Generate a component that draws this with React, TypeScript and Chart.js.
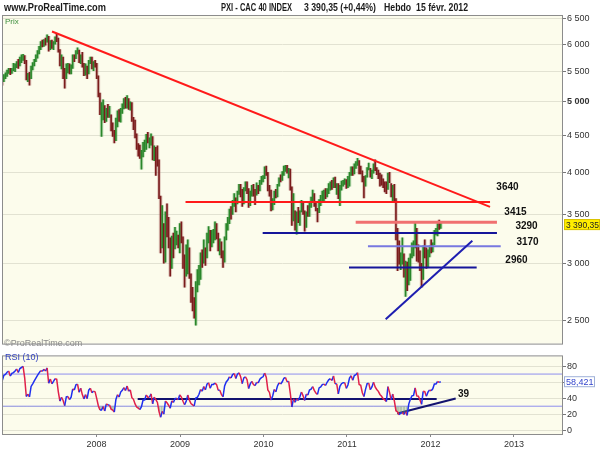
import React, { useEffect, useRef } from "react";
import { Chart, registerables } from "chart.js";
Chart.register(...registerables);

// ---------- DATA (weekly bars, CAC 40, Friday of first bar = 2006-11-10) ----------
const warmupCloses = [4960, 5010, 5120, 5110, 5170, 5080, 5180, 5100, 5250, 5330, 5390, 5400, 5400, 5440];

const lows2006 = [5390, 5270, 5330, 5380, 5420, 5470, 5450, 5470];
const highs2006 = [5470, 5410, 5450, 5480, 5530, 5560, 5560, 5560];
const closes2006 = [5420, 5300, 5420, 5440, 5500, 5530, 5480, 5540];

const lows2007 = [5520, 5500, 5570, 5560, 5600, 5660, 5700, 5640, 5360, 5330, 5270, 5380, 5530, 5600, 5680, 5740, 5820, 5900, 5950, 5960, 5980, 6040, 5870, 5900, 5920, 5900, 6000, 6050, 5850, 5600, 5550, 5380, 5220, 5380, 5480, 5460, 5460, 5560, 5680, 5730, 5820, 5660, 5640, 5580, 5430, 5440, 5380, 5460, 5640, 5550, 5520, 5580];
const highs2007 = [5650, 5640, 5680, 5720, 5760, 5800, 5810, 5790, 5700, 5470, 5490, 5600, 5660, 5720, 5800, 5880, 5960, 6050, 6080, 6090, 6120, 6180, 6150, 6070, 6080, 6050, 6140, 6190, 6120, 5900, 5800, 5760, 5560, 5640, 5650, 5640, 5620, 5800, 5800, 5880, 5930, 5890, 5800, 5850, 5650, 5640, 5600, 5700, 5760, 5760, 5680, 5700];
const closes2007 = [5560, 5600, 5650, 5620, 5720, 5750, 5780, 5680, 5400, 5440, 5380, 5570, 5630, 5700, 5770, 5850, 5930, 6010, 6000, 6070, 6050, 6160, 5950, 6060, 5980, 6040, 6110, 6100, 5880, 5620, 5700, 5600, 5400, 5590, 5600, 5500, 5550, 5750, 5720, 5860, 5880, 5690, 5790, 5620, 5480, 5580, 5450, 5670, 5730, 5600, 5640, 5620];

const lows2008 = [5380, 5080, 4800, 4480, 4720, 4680, 4700, 4760, 4760, 4560, 4480, 4390, 4420, 4620, 4700, 4690, 4820, 4890, 4900, 4900, 4880, 4870, 4700, 4580, 4460, 4300, 4210, 4180, 4040, 4200, 4270, 4300, 4390, 4320, 4360, 4160, 4150, 3960, 4080, 3680, 3100, 3150, 3000, 3010, 3260, 3150, 2880, 2950, 3050, 3140, 3180, 3150];
const highs2008 = [5650, 5430, 5140, 4990, 5030, 4940, 4900, 4960, 4930, 4800, 4680, 4570, 4750, 4860, 4880, 4900, 4970, 5050, 5070, 5100, 5050, 5000, 4990, 4760, 4720, 4520, 4380, 4360, 4290, 4400, 4430, 4510, 4540, 4460, 4520, 4480, 4350, 4330, 4350, 4160, 3710, 3600, 3400, 3530, 3620, 3470, 3250, 3270, 3300, 3360, 3320, 3280];
const closes2008 = [5420, 5130, 4880, 4880, 4950, 4700, 4860, 4800, 4800, 4600, 4550, 4430, 4700, 4830, 4740, 4880, 4930, 5010, 4930, 5060, 4920, 4960, 4720, 4660, 4480, 4330, 4270, 4200, 4250, 4380, 4380, 4480, 4420, 4420, 4480, 4200, 4330, 4250, 4160, 3710, 3180, 3330, 3070, 3490, 3370, 3200, 2960, 3220, 3110, 3250, 3260, 3190];

const lows2009 = [3100, 3200, 2950, 2780, 2880, 2900, 2860, 2650, 2580, 2520, 2465, 2740, 2800, 2850, 2960, 3000, 2980, 3050, 3200, 3120, 3160, 3200, 3230, 3240, 3120, 3080, 3050, 2960, 3010, 3230, 3330, 3400, 3450, 3500, 3590, 3530, 3620, 3730, 3700, 3590, 3620, 3770, 3740, 3580, 3600, 3710, 3710, 3610, 3720, 3740, 3770, 3850];
const highs2009 = [3400, 3420, 3260, 3080, 3180, 3230, 3150, 2900, 2780, 2690, 2830, 2940, 2980, 3100, 3130, 3230, 3150, 3300, 3370, 3330, 3330, 3340, 3420, 3400, 3300, 3240, 3210, 3120, 3260, 3400, 3470, 3560, 3590, 3660, 3740, 3690, 3770, 3850, 3850, 3790, 3810, 3880, 3880, 3800, 3770, 3840, 3850, 3790, 3870, 3840, 3900, 3950];
const closes2009 = [3350, 3250, 3050, 2850, 2950, 3150, 2900, 2700, 2620, 2560, 2790, 2810, 2900, 3050, 3000, 3150, 3050, 3250, 3300, 3150, 3280, 3280, 3320, 3290, 3160, 3160, 3060, 3000, 3250, 3370, 3430, 3540, 3520, 3640, 3680, 3600, 3750, 3800, 3740, 3620, 3790, 3830, 3780, 3610, 3730, 3800, 3740, 3720, 3800, 3790, 3880, 3920];

const lows2010 = [3880, 3920, 3960, 3770, 3710, 3540, 3550, 3610, 3690, 3700, 3830, 3880, 3900, 3960, 4010, 3990, 3930, 3780, 3380, 3430, 3330, 3290, 3410, 3380, 3530, 3500, 3320, 3360, 3480, 3480, 3580, 3640, 3590, 3540, 3420, 3520, 3600, 3650, 3650, 3680, 3700, 3740, 3780, 3790, 3810, 3810, 3730, 3680, 3600, 3780, 3830, 3850, 3800];
const highs2010 = [3960, 4070, 4080, 4000, 3840, 3780, 3680, 3770, 3790, 3850, 3930, 3970, 4010, 4080, 4090, 4090, 4050, 4040, 3820, 3740, 3540, 3530, 3580, 3540, 3660, 3650, 3540, 3530, 3600, 3640, 3700, 3780, 3740, 3650, 3570, 3670, 3720, 3770, 3780, 3800, 3800, 3860, 3880, 3900, 3930, 3940, 3860, 3860, 3840, 3890, 3900, 3920, 3910];
const closes2010 = [3940, 4040, 3990, 3790, 3740, 3560, 3630, 3760, 3710, 3840, 3920, 3900, 3950, 4040, 4060, 4000, 4010, 3820, 3390, 3560, 3430, 3510, 3450, 3530, 3640, 3530, 3380, 3520, 3500, 3620, 3640, 3700, 3620, 3560, 3530, 3660, 3680, 3730, 3740, 3720, 3780, 3830, 3850, 3830, 3920, 3830, 3830, 3690, 3810, 3860, 3880, 3880, 3810];

const lows2011 = [3810, 3830, 3960, 3960, 3980, 4050, 4090, 3980, 3980, 3880, 3690, 3830, 3940, 4030, 3940, 3920, 3990, 4020, 3970, 3920, 3830, 3840, 3810, 3760, 3740, 3790, 3870, 3700, 3650, 3650, 3230, 2930, 2990, 2940, 2990, 2870, 2700, 2750, 2800, 2840, 3050, 3070, 3150, 3020, 3010, 2930, 2780, 2850, 3050, 2950, 2960, 3060];
const highs2011 = [3950, 4000, 4070, 4070, 4110, 4140, 4180, 4150, 4080, 4020, 3950, 3960, 4060, 4120, 4050, 4030, 4110, 4160, 4060, 4030, 3990, 3970, 3920, 3880, 3880, 3990, 4000, 3860, 3840, 3850, 3680, 3350, 3220, 3100, 3250, 3090, 3020, 3010, 3050, 3090, 3200, 3220, 3420, 3350, 3180, 3120, 3000, 3170, 3230, 3150, 3130, 3170];
const closes2011 = [3860, 3990, 4040, 3990, 4090, 4110, 4160, 4020, 4010, 3900, 3830, 3940, 4050, 4060, 3960, 4010, 4100, 4030, 3990, 3960, 3910, 3880, 3840, 3820, 3790, 3980, 3890, 3740, 3830, 3670, 3280, 3210, 3020, 3050, 3060, 2950, 2990, 2780, 2980, 3080, 3160, 3170, 3350, 3120, 3110, 2990, 2820, 3150, 3140, 2990, 3100, 3160];

const lows2012 = [3100, 3110, 3180, 3280, 3270, 3340, 3350];
const highs2012 = [3230, 3200, 3330, 3350, 3400, 3440, 3420];
const closes2012 = [3140, 3190, 3320, 3320, 3390, 3375, 3390.35];

const priceTicks = [2500, 3000, 3500, 4000, 4500, 5000, 5500, 6000, 6500];
const rsiTicks = [0, 20, 40, 60, 80];
const yearTicks = [2008, 2009, 2010, 2011, 2012, 2013];

// trend lines in (decimal year, price)
const resistanceTrend = [[2007.467, 6247], [2012.713, 3586]];
const supportTrend = [[2011.463, 2513], [2012.501, 3220]];
const levelValues = [3640, 3415, 3300, 3165, 2960];
const levelStarts = [2009.066, 2011.104, 2009.99, 2011.251, 2011.024];
const levelEnds = [2012.713, 2012.796, 2012.796, 2012.841, 2012.553];
const levelTexts = ["3640", "3415", "3290", "3170", "2960"];
const levelTextAt = [[2012.922, 3811], [2013.018, 3525], [2013.15, 3374], [2013.162, 3210], [2013.03, 3025]];

// RSI annotations (decimal year, RSI)
const rsiFlatLine = [[2008.493, 39], [2012.074, 39]];
const rsiTrend = [[2011.602, 20.9], [2012.302, 39.6]];
const rsiTextAt = [2012.395, 45.1];
const rsiLevels = [70, 30];

const lastPriceText = "3 390,35";
const lastRsiText = "58,421";

// ---------- derived ----------
const lows = [...lows2006, ...lows2007, ...lows2008, ...lows2009, ...lows2010, ...lows2011, ...lows2012];
const highs = [...highs2006, ...highs2007, ...highs2008, ...highs2009, ...highs2010, ...highs2011, ...highs2012];
const closes = [...closes2006, ...closes2007, ...closes2008, ...closes2009, ...closes2010, ...closes2011, ...closes2012];

const X_MIN = 2006.88;
const X_MAX = 2013.575;
const DAY = 86400000;
const FIRST_FRIDAY = Date.UTC(2006, 10, 10);

function decimalYear(ms: number) {
  const y = new Date(ms).getUTCFullYear();
  const s = Date.UTC(y, 0, 1);
  const e = Date.UTC(y + 1, 0, 1);
  return y + (ms - s) / (e - s);
}
const weekX = closes.map((_, i) => decimalYear(FIRST_FRIDAY + i * 7 * DAY - 2 * DAY));

function wilderRsi(series: number[], n: number) {
  const out: number[] = series.map(() => NaN);
  let g = 0, l = 0;
  for (let i = 1; i < series.length; i++) {
    const d = series[i] - series[i - 1];
    const up = d > 0 ? d : 0;
    const dn = d < 0 ? -d : 0;
    if (i <= n) {
      g += up; l += dn;
      if (i === n) { g /= n; l /= n; out[i] = l === 0 ? 100 : 100 - 100 / (1 + g / l); }
    } else {
      g = (g * (n - 1) + up) / n;
      l = (l * (n - 1) + dn) / n;
      out[i] = l === 0 ? 100 : 100 - 100 / (1 + g / l);
    }
  }
  return out;
}
const rsiAll = wilderRsi([...warmupCloses, ...closes], 10);
const rsiValues = rsiAll.slice(warmupCloses.length);

const FONT = '"Liberation Sans", Arial, sans-serif';
const CREAM = "#FCFCEC";
const GRID = "#E2E2D2";
const FRAME = "#8C8C8C";

function fmtThousands(v: number) {
  return String(v).replace(/\B(?=(\d{3})+(?!\d))/g, " ");
}

const pricePlugin = {
  id: "pricePanel",
  beforeDraw(chart: any) {
    const { ctx, chartArea: a } = chart;
    ctx.save();
    ctx.fillStyle = "#ffffff";
    ctx.fillRect(0, 0, chart.width, chart.height);
    ctx.fillStyle = CREAM;
    ctx.fillRect(a.left, a.top, a.right - a.left, a.bottom - a.top);
    ctx.restore();
  },
  afterDraw(chart: any) {
    const { ctx, chartArea: a, scales } = chart;
    ctx.save();
    ctx.strokeStyle = FRAME;
    ctx.lineWidth = 1;
    ctx.strokeRect(a.left - 0.5, a.top - 0.5, a.right - a.left + 1, a.bottom - a.top + 1);

    // header
    ctx.fillStyle = "#1a1a1a";
    ctx.textBaseline = "alphabetic";
    ctx.textAlign = "left";
    ctx.font = `bold 10px ${FONT}`;
    ctx.fillText("www.ProRealTime.com", 4, 11, 102);
    ctx.fillText("PXI - CAC 40 INDEX", 221, 11, 71);
    ctx.fillText("3 390,35 (+0,44%)", 304, 11, 72);
    ctx.fillText("Hebdo  15 févr. 2012", 384, 11, 84);

    ctx.font = `8px ${FONT}`;
    ctx.fillStyle = "#3d8f3d";
    ctx.fillText("Prix", 5, 24);
    ctx.font = `9px ${FONT}`;
    ctx.fillStyle = "#8a8a8a";
    ctx.fillText("©ProRealTime.com", 4, 346);

    // level labels
    ctx.font = `bold 10px ${FONT}`;
    ctx.fillStyle = "#111";
    ctx.textAlign = "center";
    ctx.textBaseline = "middle";
    levelTexts.forEach((t, i) => {
      ctx.fillText(t, scales.x.getPixelForValue(levelTextAt[i][0]), scales.y.getPixelForValue(levelTextAt[i][1]));
    });

    // last price box
    const py = scales.y.getPixelForValue(closes[closes.length - 1]);
    ctx.fillStyle = "#FFEE00";
    ctx.fillRect(564, py - 5.5, 36, 11);
    ctx.strokeStyle = "#D8C000";
    ctx.strokeRect(564.5, py - 5, 35, 10);
    ctx.fillStyle = "#222";
    ctx.font = `9px ${FONT}`;
    ctx.textAlign = "left";
    ctx.fillText(lastPriceText, 566, py + 0.5, 33);
    ctx.restore();
  },
};

const rsiPlugin = {
  id: "rsiPanel",
  beforeDraw(chart: any) {
    const { ctx, chartArea: a } = chart;
    ctx.save();
    ctx.fillStyle = "#ffffff";
    ctx.fillRect(0, 0, chart.width, chart.height);
    ctx.fillStyle = CREAM;
    ctx.fillRect(a.left, a.top, a.right - a.left, a.bottom - a.top);
    ctx.restore();
  },
  afterDraw(chart: any) {
    const { ctx, chartArea: a, scales } = chart;
    ctx.save();
    ctx.strokeStyle = FRAME;
    ctx.lineWidth = 1;
    ctx.strokeRect(a.left - 0.5, a.top - 0.5, a.right - a.left + 1, a.bottom - a.top + 1);
    ctx.font = `9px ${FONT}`;
    ctx.fillStyle = "#2F3FBF";
    ctx.textBaseline = "top";
    ctx.textAlign = "left";
    ctx.fillText("RSI (10)", 5, 3);

    ctx.font = `bold 10px ${FONT}`;
    ctx.fillStyle = "#111";
    ctx.textAlign = "center";
    ctx.textBaseline = "middle";
    ctx.fillText("39", scales.x.getPixelForValue(rsiTextAt[0]), scales.y.getPixelForValue(rsiTextAt[1]));

    const ry = scales.y.getPixelForValue(rsiValues[rsiValues.length - 1]);
    ctx.fillStyle = "#ffffff";
    ctx.fillRect(564.5, ry - 5, 30, 10);
    ctx.strokeStyle = "#9FB0D8";
    ctx.strokeRect(564.5, ry - 5, 30, 10);
    ctx.fillStyle = "#3344CC";
    ctx.font = `9px ${FONT}`;
    ctx.textAlign = "left";
    ctx.fillText(lastRsiText, 566, ry + 0.5, 28);
    ctx.restore();
  },
};

function seg(points: number[][]) {
  return points.map((p) => ({ x: p[0], y: p[1] }));
}

export default function App() {
  const priceRef = useRef<HTMLCanvasElement>(null);
  const rsiRef = useRef<HTMLCanvasElement>(null);

  useEffect(() => {
    const up = closes.map((c, i) => c >= (i === 0 ? warmupCloses[warmupCloses.length - 1] : closes[i - 1]));
    const barData = weekX.map((x, i) => ({ x, y: [lows[i], highs[i]] }));

    const lineDs = (data: any[], color: string, width: number) => ({
      type: "line" as const,
      data,
      borderColor: color,
      borderWidth: width,
      pointRadius: 0,
      fill: false,
      order: 0,
    });

    const priceDatasets: any[] = [
      lineDs(seg(resistanceTrend), "#FF1A1A", 2),
      lineDs(seg(supportTrend), "#1E1EB0", 2),
      ...levelValues.map((v, i) =>
        lineDs(
          [{ x: levelStarts[i], y: v }, { x: levelEnds[i], y: v }],
          ["#FF1A1A", "#F07070", "#15159A", "#7878E0", "#15159A"][i],
          [2, 3, 2, 2, 2][i]
        )
      ),
      {
        type: "bar",
        data: barData,
        backgroundColor: up.map((u) => (u ? "#2A862A" : "#7A1C1C")),
        barThickness: 1,
        grouped: false,
        order: 1,
      },
      {
        type: "bar",
        data: barData,
        backgroundColor: up.map((u) => (u ? "rgba(90,170,90,0.33)" : "rgba(170,100,100,0.33)")),
        barThickness: 3,
        grouped: false,
        order: 2,
      },
    ];

    const c1 = new Chart(priceRef.current as HTMLCanvasElement, {
      type: "bar",
      data: { datasets: priceDatasets },
      options: {
        animation: false,
        responsive: false,
        devicePixelRatio: 1,
        layout: { padding: { top: 16, left: 3, bottom: 2, right: 0 } },
        plugins: { legend: { display: false }, tooltip: { enabled: false } },
        scales: {
          x: { type: "linear", min: X_MIN, max: X_MAX, display: false, offset: false },
          y: {
            type: "logarithmic",
            position: "right",
            min: 2326,
            max: 6561,
            afterBuildTicks: (s: any) => {
              s.ticks = priceTicks.map((v) => ({ value: v }));
            },
            afterFit: (s: any) => {
              s.width = 38;
            },
            ticks: {
              autoSkip: false,
              padding: 1,
              color: "#333",
              callback: (v: any) => fmtThousands(Number(v)),
              font: (c: any) => ({ family: FONT, size: 9, weight: c.tick && c.tick.value === 5000 ? "bold" : "normal" }),
            },
            grid: { color: GRID, tickColor: "#777", tickLength: 4 },
            border: { display: false },
          },
        },
      } as any,
      plugins: [pricePlugin],
    } as any);

    const rsiData = weekX.map((x, i) => ({ x, y: rsiValues[i] }));
    const RED = "#E0204A";
    const BLUE = "#1F2FEF";
    const c2 = new Chart(rsiRef.current as HTMLCanvasElement, {
      type: "line",
      data: {
        datasets: [
          {
            data: rsiData,
            borderWidth: 1.5,
            pointRadius: 0,
            borderColor: BLUE,
            segment: {
              borderColor: (c: any) => (c.p1.parsed.y < c.p0.parsed.y ? RED : BLUE),
            },
            fill: { target: { value: 30 }, above: "rgba(0,0,0,0)", below: "rgba(110,145,110,0.5)" },
            order: 0,
          },
          ...rsiLevels.map((v) => ({
            data: [{ x: X_MIN, y: v }, { x: X_MAX, y: v }],
            borderColor: "#8E8EEE",
            borderWidth: 1,
            pointRadius: 0,
            fill: false,
            order: 3,
          })),
          {
            data: seg(rsiFlatLine),
            borderColor: "#12126E",
            borderWidth: 2,
            pointRadius: 0,
            fill: false,
            order: 1,
          },
          {
            data: seg(rsiTrend),
            borderColor: "#12126E",
            borderWidth: 2,
            pointRadius: 0,
            fill: false,
            order: 1,
          },
        ],
      },
      options: {
        animation: false,
        responsive: false,
        devicePixelRatio: 1,
        layout: { padding: { top: 2, left: 3, bottom: 0, right: 0 } },
        plugins: { legend: { display: false }, tooltip: { enabled: false } },
        scales: {
          x: {
            type: "linear",
            min: X_MIN,
            max: X_MAX,
            position: "bottom",
            afterBuildTicks: (s: any) => {
              s.ticks = yearTicks.map((v) => ({ value: v }));
            },
            afterFit: (s: any) => {
              s.height = 16;
            },
            ticks: {
              autoSkip: false,
              maxRotation: 0,
              padding: 2,
              color: "#333",
              font: { family: FONT, size: 9 },
              callback: (v: any) => String(v),
            },
            grid: { drawOnChartArea: false, tickLength: 3, tickColor: "#888" },
            border: { display: false },
          },
          y: {
            position: "right",
            min: -4.6,
            max: 92,
            afterBuildTicks: (s: any) => {
              s.ticks = rsiTicks.map((v) => ({ value: v }));
            },
            afterFit: (s: any) => {
              s.width = 38;
            },
            ticks: { autoSkip: false, padding: 1, color: "#333", font: { family: FONT, size: 9 } },
            grid: { color: GRID, tickColor: "#777", tickLength: 4 },
            border: { display: false },
          },
        },
      } as any,
      plugins: [rsiPlugin],
    } as any);

    return () => {
      c1.destroy();
      c2.destroy();
    };
  }, []);

  return (
    <div style={{ position: "absolute", left: 0, top: 0, width: 600, height: 450, background: "#fff" }}>
      <canvas ref={priceRef} width={600} height={350} style={{ position: "absolute", left: 0, top: 0 }} />
      <canvas ref={rsiRef} width={600} height={100} style={{ position: "absolute", left: 0, top: 350 }} />
    </div>
  );
}
